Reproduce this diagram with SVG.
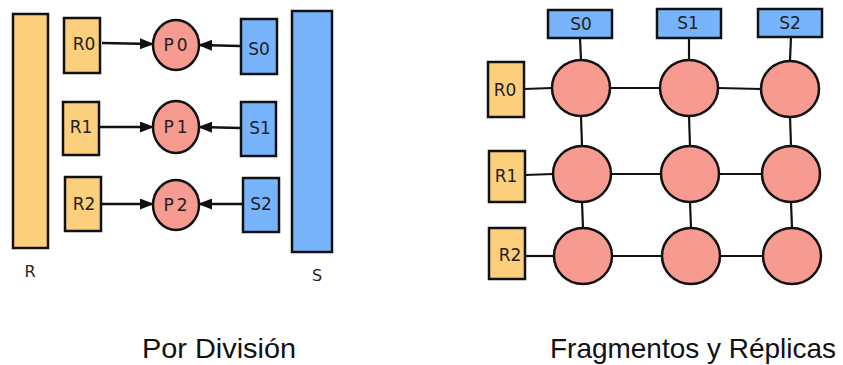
<svg xmlns="http://www.w3.org/2000/svg" width="843" height="365" viewBox="0 0 843 365">
  <style>
    .r { fill: #FCCF7C; stroke: #111; stroke-width: 2.5; }
    .s { fill: #78B4FC; stroke: #111; stroke-width: 2.5; }
    .p { fill: #F79A90; stroke: #111; stroke-width: 2.5; }
    .lbl { font-family: "DejaVu Sans", sans-serif; font-size: 17px; fill: #222; text-anchor: middle; }
    .cap { font-family: "DejaVu Sans", sans-serif; font-size: 16px; fill: #222; text-anchor: middle; }
    .title { font-family: "Liberation Sans", sans-serif; font-size: 28px; fill: #111; }
    .edge { stroke: #111; stroke-width: 2.2; fill: none; }
    .arr { stroke: #111; stroke-width: 2.4; fill: none; marker-end: url(#head); }
  </style>
  <defs>
    <marker id="head" viewBox="0 0 14 11" refX="13" refY="5.5" markerWidth="14" markerHeight="11" orient="auto" markerUnits="userSpaceOnUse">
      <path d="M0,0 L14,5.5 L0,11 Z" fill="#111"/>
    </marker>
  </defs>

  <rect width="843" height="365" fill="#fff"/>

  <!-- left panel: partitioned join -->
  <g id="connectors-left">
    <line class="arr" x1="102" y1="43" x2="153" y2="44"/>
    <line class="arr" x1="240" y1="46" x2="199" y2="45"/>
    <line class="arr" x1="100" y1="127" x2="153" y2="127"/>
    <line class="arr" x1="240" y1="128" x2="199" y2="127"/>
    <line class="arr" x1="102" y1="204" x2="153" y2="204"/>
    <line class="arr" x1="242" y1="204" x2="199" y2="204"/>
  </g>

  <g id="R">
    <rect class="r" x="13" y="14" width="35" height="234"/>
    <text class="cap" x="30" y="277">R</text>
  </g>
  <g id="S">
    <rect class="s" x="292" y="11" width="40" height="241"/>
    <text class="cap" x="317" y="281">S</text>
  </g>

  <g id="R0-left">
    <rect class="r" x="64" y="18" width="36" height="55"/>
    <text class="lbl" x="84" y="50">R0</text>
  </g>
  <g id="R1-left">
    <rect class="r" x="63" y="102" width="36" height="53"/>
    <text class="lbl" x="81" y="133">R1</text>
  </g>
  <g id="R2-left">
    <rect class="r" x="65" y="177" width="36" height="54"/>
    <text class="lbl" x="84" y="210">R2</text>
  </g>

  <g id="P0">
    <ellipse class="p" cx="176" cy="45" rx="23" ry="25"/>
    <text class="lbl" x="177" y="51" letter-spacing="3">P0</text>
  </g>
  <g id="P1">
    <ellipse class="p" cx="176" cy="127" rx="23" ry="26"/>
    <text class="lbl" x="177" y="133" letter-spacing="3">P1</text>
  </g>
  <g id="P2">
    <ellipse class="p" cx="176" cy="205" rx="23" ry="25"/>
    <text class="lbl" x="177" y="211" letter-spacing="3">P2</text>
  </g>

  <g id="S0-left">
    <rect class="s" x="241" y="19" width="36" height="55"/>
    <text class="lbl" x="259" y="55">S0</text>
  </g>
  <g id="S1-left">
    <rect class="s" x="241" y="102" width="35" height="54"/>
    <text class="lbl" x="260" y="134">S1</text>
  </g>
  <g id="S2-left">
    <rect class="s" x="243" y="178" width="36" height="54"/>
    <text class="lbl" x="261" y="210">S2</text>
  </g>

  <!-- right panel: fragments and replicas grid -->
  <g id="connectors-right">
    <line class="edge" x1="580" y1="38" x2="581" y2="60"/>
    <line class="edge" x1="689" y1="38" x2="689" y2="60"/>
    <line class="edge" x1="791" y1="37" x2="790" y2="60"/>

    <line class="edge" x1="524" y1="89" x2="552" y2="88"/>
    <line class="edge" x1="525" y1="175" x2="553" y2="174"/>
    <line class="edge" x1="525" y1="256" x2="554" y2="256"/>

    <line class="edge" x1="610" y1="88" x2="660" y2="88"/>
    <line class="edge" x1="718" y1="88" x2="761" y2="89"/>
    <line class="edge" x1="611" y1="174" x2="661" y2="174"/>
    <line class="edge" x1="719" y1="174" x2="762" y2="174"/>
    <line class="edge" x1="612" y1="256" x2="662" y2="256"/>
    <line class="edge" x1="720" y1="256" x2="763" y2="256"/>

    <line class="edge" x1="581" y1="116" x2="582" y2="146"/>
    <line class="edge" x1="689" y1="116" x2="690" y2="146"/>
    <line class="edge" x1="790" y1="116" x2="791" y2="146"/>
    <line class="edge" x1="582" y1="202" x2="583" y2="228"/>
    <line class="edge" x1="690" y1="202" x2="691" y2="228"/>
    <line class="edge" x1="791" y1="202" x2="792" y2="228"/>
  </g>

  <g id="S0-right">
    <rect class="s" x="548" y="10" width="64" height="28"/>
    <text class="lbl" x="581" y="30">S0</text>
  </g>
  <g id="S1-right">
    <rect class="s" x="657" y="9" width="64" height="29"/>
    <text class="lbl" x="688" y="29">S1</text>
  </g>
  <g id="S2-right">
    <rect class="s" x="758" y="9" width="64" height="28"/>
    <text class="lbl" x="790" y="29">S2</text>
  </g>

  <g id="R0-right">
    <rect class="r" x="488" y="62" width="36" height="55"/>
    <text class="lbl" x="505" y="96">R0</text>
  </g>
  <g id="R1-right">
    <rect class="r" x="489" y="151" width="36" height="51"/>
    <text class="lbl" x="506" y="182">R1</text>
  </g>
  <g id="R2-right">
    <rect class="r" x="489" y="228" width="36" height="51"/>
    <text class="lbl" x="510" y="261">R2</text>
  </g>

  <g id="P00"><ellipse class="p" cx="581" cy="88" rx="29" ry="28"/></g>
  <g id="P01"><ellipse class="p" cx="689" cy="88" rx="29" ry="28"/></g>
  <g id="P02"><ellipse class="p" cx="790" cy="89" rx="29" ry="28"/></g>
  <g id="P10"><ellipse class="p" cx="582" cy="174" rx="29" ry="28"/></g>
  <g id="P11"><ellipse class="p" cx="690" cy="174" rx="29" ry="28"/></g>
  <g id="P12"><ellipse class="p" cx="791" cy="174" rx="29" ry="28"/></g>
  <g id="P20"><ellipse class="p" cx="583" cy="256" rx="29" ry="28"/></g>
  <g id="P21"><ellipse class="p" cx="691" cy="256" rx="29" ry="28"/></g>
  <g id="P22"><ellipse class="p" cx="792" cy="256" rx="29" ry="28"/></g>

  <!-- captions -->
  <text class="title" x="142" y="358" textLength="154" lengthAdjust="spacingAndGlyphs">Por División</text>
  <text class="title" x="550" y="358" textLength="286" lengthAdjust="spacingAndGlyphs">Fragmentos y Réplicas</text>
</svg>
